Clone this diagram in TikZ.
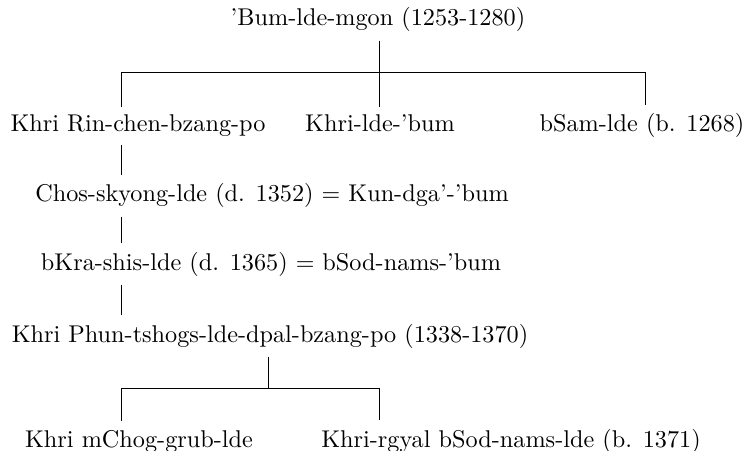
\documentclass[tikz,border=0pt]{standalone}
\begin{document}
\begin{tikzpicture}[x=0.4167pt,y=-0.4167pt,
  person/.style={anchor=base, font=\fontsize{10.1}{12}\selectfont}]
\useasboundingbox (0,0) rectangle (748,451);
\node[person] (bum) at (378,26) {'Bum-lde-mgon (1253-1280)};
\node[person] (rin) at (138,132) {Khri Rin-chen-bzang-po};
\node[person] (lde) at (380,132) {Khri-lde-'bum};
\node[person] (sam) at (642,132) {bSam-lde (b. 1268)};
\node[person] (chos) at (272,202) {Chos-skyong-lde (d. 1352) $=$ Kun-dga'-'bum};
\node[person] (kra) at (271,270) {bKra-shis-lde (d. 1365) $=$ bSod-nams-'bum};
\node[person] (phun) at (270,342) {Khri Phun-tshogs-lde-dpal-bzang-po (1338-1370)};
\node[person] (mchog) at (139,447) {Khri mChog-grub-lde};
\node[person] (rgyal) at (511,447) {Khri-rgyal bSod-nams-lde (b. 1371)};
\coordinate (j1) at (379,72);
\coordinate (xl) at (121,0);
\coordinate (xr) at (645,0);
\coordinate (xm) at (379,0);
\coordinate (j2) at (268,388);
\draw (bum.south -| j1) -- (lde.north -| j1);
\draw (rin.north -| xl) -- (xl |- j1) -- (xr |- j1) -- (sam.north -| xr);
\draw (rin.south -| xl) -- (chos.north -| xl);
\draw (chos.south -| xl) -- (kra.north -| xl);
\draw (kra.south -| xl) -- (phun.north -| xl);
\draw (phun.south -| j2) -- (j2);
\draw (mchog.north -| xl) -- (xl |- j2) -- (xm |- j2) -- (rgyal.north -| xm);
\end{tikzpicture}
\end{document}
